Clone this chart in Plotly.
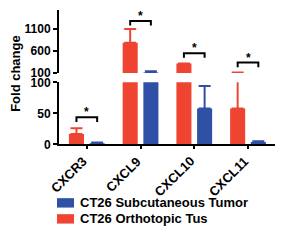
import plotly.graph_objects as go

categories = ["CXCR3", "CXCL9", "CXCL10", "CXCL11"]
subcut_vals = [2, 108, 58, 4]
subcut_err = [1, 32, 36, 1]
ortho_vals = [17, 780, 310, 58]
ortho_err = [9, 310, 0, 54]
series_names = ["CT26 Subcutaneous Tumor", "CT26 Orthotopic Tus"]
bottom_ticks = [0, 50, 100]
top_ticks = [100, 600, 1100]
# significance bracket heights: (bottom/top panel, bracket y, leg y)
brackets = [("y", 44, 36), ("y2", 1270, 1170), ("y2", 547, 440), ("y2", 334, 228)]

RED = "#F04433"
BLUE = "#3050A6"
FONT = "Arial, Liberation Sans, sans-serif"
xs = list(range(len(categories)))
W = 0.28
RED_OFF = -0.335
BLUE_OFF = 0.05
TOP_MIN = 100


def panel_err(vals, errs, top):
    out = []
    for v, e in zip(vals, errs):
        reach = v + e
        if top:
            out.append(e if reach > TOP_MIN and e > 0 else None)
        else:
            out.append(e if v < TOP_MIN and e > 0 else None)
    return out


fig = go.Figure()
for yax, top in [("y", False), ("y2", True)]:
    oe = panel_err(ortho_vals, ortho_err, top)
    se = panel_err(subcut_vals, subcut_err, top)
    fig.add_trace(go.Bar(x=xs, y=ortho_vals, width=W, offset=RED_OFF, marker_color=RED,
                         marker_line_width=0, yaxis=yax, showlegend=False,
                         error_y=dict(type="data", array=oe, arrayminus=[0]*4, symmetric=False,
                                      color=RED, thickness=2, width=6)))
    fig.add_trace(go.Bar(x=xs, y=subcut_vals, width=W, offset=BLUE_OFF, marker_color=BLUE,
                         marker_line_width=0, yaxis=yax, showlegend=False,
                         error_y=dict(type="data", array=se, arrayminus=[0]*4, symmetric=False,
                                      color=BLUE, thickness=2, width=6)))

shapes = []
annotations = []
rc = RED_OFF + W / 2
bc = BLUE_OFF + W / 2
for i, (yr, yb, yl) in enumerate(brackets):
    x0 = i + rc
    x1 = i + bc
    shapes.append(dict(type="path", xref="x", yref=yr,
                       path=f"M {x0},{yl} L {x0},{yb} L {x1},{yb} L {x1},{yl}",
                       line=dict(color="black", width=2)))
    annotations.append(dict(x=(x0 + x1) / 2, y=yb, xref="x", yref=yr, text="<b>*</b>",
                            showarrow=False, yanchor="bottom", yshift=-4,
                            font=dict(size=12, color="black", family=FONT)))

# category labels (rotated)
for i, c in enumerate(categories):
    annotations.append(dict(x=i, y=1-153/240, xref="x", yref="paper", text=f"<b>{c}</b>",
                            showarrow=False, textangle=-45, xanchor="right", yanchor="top",
                            xshift=6, font=dict(size=13, color="black", family=FONT)))

# legend (manual)
leg = [(BLUE, series_names[0], 208), (RED, series_names[1], 225)]
for col, name, ypx in leg:
    shapes.append(dict(type="rect", xref="paper", yref="paper",
                       x0=57/288, x1=74/288, y0=1-(ypx+5)/240, y1=1-(ypx-5)/240,
                       fillcolor=col, line_width=0))
    annotations.append(dict(x=78/288, y=1-ypx/240, xref="paper", yref="paper", text=f"<b>{name}</b>",
                            showarrow=False, xanchor="left", yanchor="middle",
                            font=dict(size=13, color="black", family=FONT)))

annotations.append(dict(x=16/288, y=1-71/240, xref="paper", yref="paper", text="<b>Fold change</b>",
                        showarrow=False, textangle=-90, xanchor="center", yanchor="middle",
                        font=dict(size=13, color="black", family=FONT)))

yaxis_common = dict(showline=True, linecolor="black", linewidth=2, ticks="outside", ticklen=4,
                    tickwidth=2, tickcolor="black", showgrid=False, zeroline=False, anchor="x",
                    tickfont=dict(size=12, color="black", family=FONT))

fig.update_layout(
    width=288, height=240, margin=dict(l=0, r=0, t=0, b=0),
    paper_bgcolor="white", plot_bgcolor="white", barmode="overlay", showlegend=False,
    xaxis=dict(domain=[59/288, 275/288], range=[-0.52, 3.5], tickvals=xs,
               showticklabels=False,
               showline=True, linecolor="black", linewidth=2, ticks="outside", ticklen=3,
               tickwidth=1.5, tickcolor="black", showgrid=False,
               zeroline=False, anchor="y"),
    yaxis=dict(domain=[1-146/240, 1-80/240], range=[0, 100], tickvals=bottom_ticks,
               ticktext=[f"<b>{t}</b>" for t in bottom_ticks], **yaxis_common),
    yaxis2=dict(domain=[1-70/240, 1-3/240], range=[100, 1525], tickvals=top_ticks,
                ticktext=[f"<b>{t}</b>" for t in top_ticks], **yaxis_common),
    shapes=shapes, annotations=annotations,
)

fig.write_html("out.html")
